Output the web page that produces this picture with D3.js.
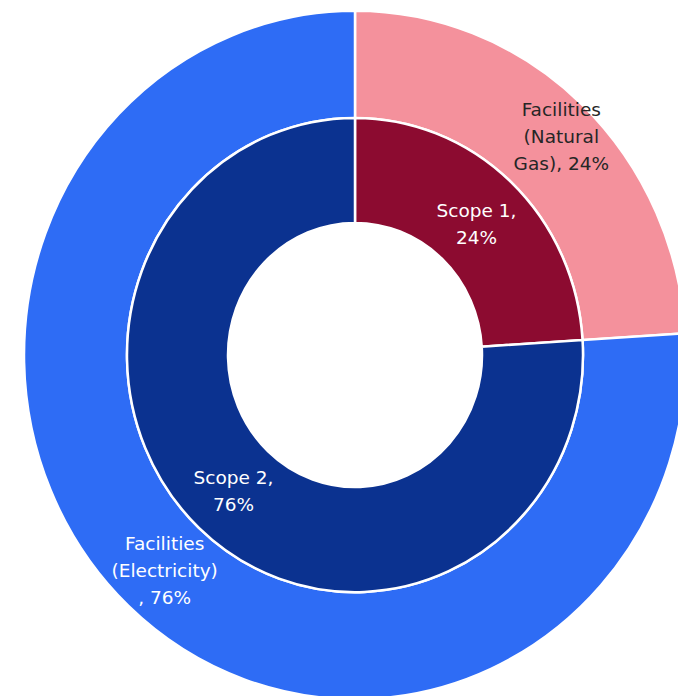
<!DOCTYPE html>
<html>
<head>
<meta charset="utf-8">
<script src="https://cdn.jsdelivr.net/npm/d3@7"></script>
<style>
  html, body { margin: 0; padding: 0; background: #ffffff; }
  svg { display: block; }
</style>
</head>
<body>
<script>
// Emission sources: inner ring by scope, outer ring by facility energy type
const scopeLabels = ["Scope 1", "Scope 2"];
const scopeValues = [24, 76];
const sourceLabels = ["Facilities (Natural Gas)", "Facilities (Electricity)"];
const sourceValues = [24, 76];

const scopeColors = ["#8c0b30", "#0b3290"];
const sourceColors = ["#f4919c", "#2e6cf5"];

const W = 678, H = 696;
const cx = 355, cy = 355;
const squash = 1.04;           // slight vertical stretch of the rings
const rHole = 127, rMid = 228, rOuter = 331;

const svg = d3.select("body").append("svg")
  .attr("width", W).attr("height", H);

const pie = d3.pie().sort(null).value(d => d.value);

const scopeData = pie(scopeLabels.map((l, i) => ({ label: l, value: scopeValues[i], color: scopeColors[i] })));
const sourceData = pie(sourceLabels.map((l, i) => ({ label: l, value: sourceValues[i], color: sourceColors[i] })));

const innerArc = d3.arc().innerRadius(rHole).outerRadius(rMid);
const outerArc = d3.arc().innerRadius(rMid).outerRadius(rOuter);

const rings = svg.append("g")
  .attr("transform", `translate(${cx},${cy}) scale(1,${squash})`);

rings.selectAll("path.outer")
  .data(sourceData).join("path")
  .attr("class", "outer")
  .attr("d", outerArc)
  .attr("fill", d => d.data.color)
  .attr("stroke", "#ffffff")
  .attr("stroke-width", 2.5)
  .attr("vector-effect", "non-scaling-stroke");

rings.selectAll("path.inner")
  .data(scopeData).join("path")
  .attr("class", "inner")
  .attr("d", innerArc)
  .attr("fill", d => d.data.color)
  .attr("stroke", "#ffffff")
  .attr("stroke-width", 2.5)
  .attr("vector-effect", "non-scaling-stroke");

// Labels, placed at arc centroids (in unscaled text space)
const labels = svg.append("g").attr("transform", `translate(${cx},${cy})`);
const fontFamily = "'DejaVu Sans', Verdana, sans-serif";
const lineH = 27;

function drawLabel(pos, lines, color, dx = 0, dy = 0) {
  const n = lines.length;
  const t = labels.append("text")
    .attr("text-anchor", "middle")
    .attr("font-family", fontFamily)
    .attr("font-size", 18.5)
    .attr("fill", color);
  lines.forEach((ln, i) => {
    t.append("tspan")
      .attr("x", pos[0] + dx)
      .attr("y", pos[1] * squash + (i - (n - 1) / 2) * lineH + 7 + dy)
      .text(ln);
  });
}

const pct = v => `${v}%`;

// inner ring labels
drawLabel(innerArc.centroid(scopeData[0]), [`${scopeLabels[0]},`, pct(scopeValues[0])], "#ffffff", 0, 3);
drawLabel(innerArc.centroid(scopeData[1]), [`${scopeLabels[1]},`, pct(scopeValues[1])], "#ffffff", 0, 1);

// outer ring labels (wrapped as they are shown)
drawLabel(outerArc.centroid(sourceData[0]), ["Facilities", "(Natural", `Gas), ${pct(sourceValues[0])}`], "#262626", 15, -7);
drawLabel(outerArc.centroid(sourceData[1]), ["Facilities", "(Electricity)", `, ${pct(sourceValues[1])}`], "#ffffff", 1, 3);
</script>
</body>
</html>
